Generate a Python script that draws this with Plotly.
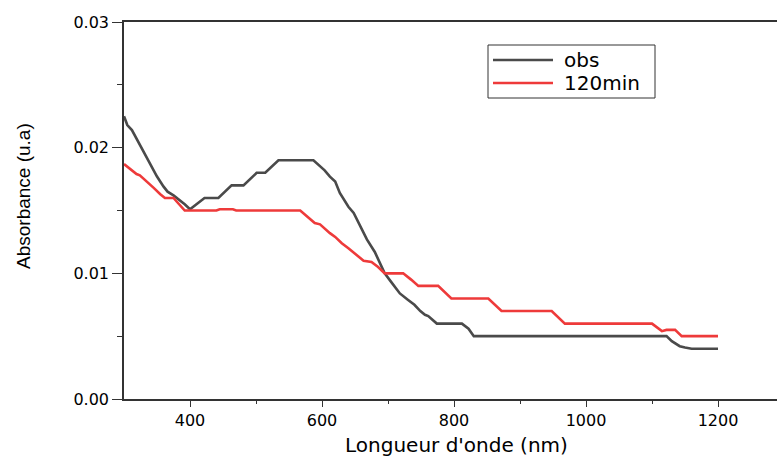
import plotly.graph_objects as go

# UV-Vis spectra: wavelength (nm) vs absorbance (u.a)
wl_obs = [300, 305, 312, 320, 330, 340, 350, 360, 366, 375, 385, 392, 400, 410, 422, 443,
          463, 481, 501, 514, 534, 587, 595, 604, 612, 620, 627, 640, 648, 655, 668, 680,
          695, 705, 718, 730, 740, 749, 756, 761, 774, 812, 822, 830, 1122, 1130, 1142,
          1150, 1160, 1200]
abs_obs = [0.0225, 0.0218, 0.0214, 0.0206, 0.0196, 0.0186, 0.0177, 0.0169, 0.0165, 0.0162,
           0.0158, 0.0155, 0.0151, 0.0155, 0.0160, 0.0160, 0.0170, 0.0170, 0.0180, 0.0180,
           0.0190, 0.0190, 0.0186, 0.0182, 0.0177, 0.0173, 0.0164, 0.0153, 0.0148, 0.0141,
           0.0127, 0.0117, 0.0100, 0.0093, 0.0084, 0.0079, 0.0075, 0.0070, 0.0067, 0.0066,
           0.0060, 0.0060, 0.0056, 0.0050, 0.0050, 0.0046, 0.0042, 0.0041, 0.0040, 0.0040]

wl_120 = [300, 310, 319, 324, 335, 345, 355, 362, 375, 383, 392, 440, 445, 465, 470, 567,
          578, 589, 597, 605, 612, 620, 630, 640, 652, 663, 675, 685, 695, 723, 735, 746,
          776, 786, 796, 852, 862, 872, 948, 958, 968, 1100, 1115, 1122, 1135, 1145, 1200]
abs_120 = [0.0187, 0.0183, 0.0179, 0.0178, 0.0173, 0.0168, 0.0163, 0.0160, 0.0160, 0.0155,
           0.0150, 0.0150, 0.0151, 0.0151, 0.0150, 0.0150, 0.0145, 0.0140, 0.0139, 0.0135,
           0.0132, 0.0129, 0.0124, 0.0120, 0.0115, 0.0110, 0.0109, 0.0105, 0.0100, 0.0100,
           0.0095, 0.0090, 0.0090, 0.0085, 0.0080, 0.0080, 0.0075, 0.0070, 0.0070, 0.0065,
           0.0060, 0.0060, 0.0054, 0.0055, 0.0055, 0.0050, 0.0050]

series_names = ["obs", "120min"]
series_colors = ["#4a4a4a", "#ee3a3a"]

x_ticks = [400, 600, 800, 1000, 1200]
y_ticks = [0.00, 0.01, 0.02, 0.03]
y_tick_text = ["0.00", "0.01", "0.02", "0.03"]

FONT = "DejaVu Sans, Liberation Sans, sans-serif"
ARIAL = "Liberation Sans, Arial, sans-serif"
AXIS_COLOR = "#333333"
LINE_W = 2.6

# plot-area geometry in pixels
W, H = 777, 457
L, R, T, B = 124, 0, 22, 58
PW, PH = W - L - R, H - T - B


def px(x):
    return (x - L) / PW


def py(y):
    return (H - B - y) / PH


fig = go.Figure()
for wl, ab, name, color in [(wl_obs, abs_obs, series_names[0], series_colors[0]),
                            (wl_120, abs_120, series_names[1], series_colors[1])]:
    fig.add_trace(go.Scatter(x=wl, y=ab, mode="lines", name=name, showlegend=False,
                             line=dict(color=color, width=LINE_W)))

fig.update_layout(
    width=W, height=H, autosize=False,
    margin=dict(l=L, r=R, t=T, b=B),
    paper_bgcolor="white", plot_bgcolor="white",
    font=dict(family=FONT, color="black"),
)

fig.update_xaxes(
    range=[300, 300 + PW / 0.66], tickvals=x_ticks, ticks="outside", ticklen=6,
    tickwidth=1.3, tickcolor=AXIS_COLOR, showline=True, linecolor=AXIS_COLOR,
    linewidth=1.5, mirror=True, showgrid=False, zeroline=False,
    tickfont=dict(size=16, family=FONT),
    minor=dict(tickvals=[500, 700, 900, 1100], ticks="outside", ticklen=3,
               tickwidth=1.3, tickcolor=AXIS_COLOR),
)
fig.update_yaxes(
    range=[0, 0.03], tickvals=y_ticks, ticktext=y_tick_text, ticks="outside",
    ticklen=10, tickwidth=1.3, tickcolor=AXIS_COLOR, showline=True,
    linecolor=AXIS_COLOR, linewidth=1.5, mirror=False, showgrid=False, zeroline=False,
    tickfont=dict(size=16, family=FONT),
    minor=dict(tickvals=[0.005, 0.015, 0.025], ticks="outside", ticklen=5,
               tickwidth=1.3, tickcolor=AXIS_COLOR),
)

# axis titles
fig.add_annotation(text="Longueur d'onde (nm)", xref="paper", yref="paper",
                   x=px(456), y=py(445), xanchor="center", yanchor="middle",
                   showarrow=False, font=dict(size=20, family=FONT))
fig.add_annotation(text="Absorbance (u.a)", xref="paper", yref="paper",
                   x=px(23), y=py(196), xanchor="center", yanchor="middle",
                   showarrow=False, textangle=-90, font=dict(size=19, family=ARIAL))

# boxed legend
fig.add_shape(type="rect", xref="paper", yref="paper",
              x0=px(488), x1=px(655), y0=py(98), y1=py(45),
              line=dict(color="#333333", width=1), fillcolor="white", layer="above")
for i, (name, color) in enumerate(zip(series_names, series_colors)):
    yrow = 60 + 23 * i
    fig.add_shape(type="line", xref="paper", yref="paper",
                  x0=px(493), x1=px(553), y0=py(yrow), y1=py(yrow),
                  line=dict(color=color, width=LINE_W), layer="above")
    fig.add_annotation(text=name, xref="paper", yref="paper",
                       x=px(562), y=py(yrow), xanchor="left", yanchor="middle",
                       showarrow=False, font=dict(size=20, family=FONT))

fig.write_html("out.html")
